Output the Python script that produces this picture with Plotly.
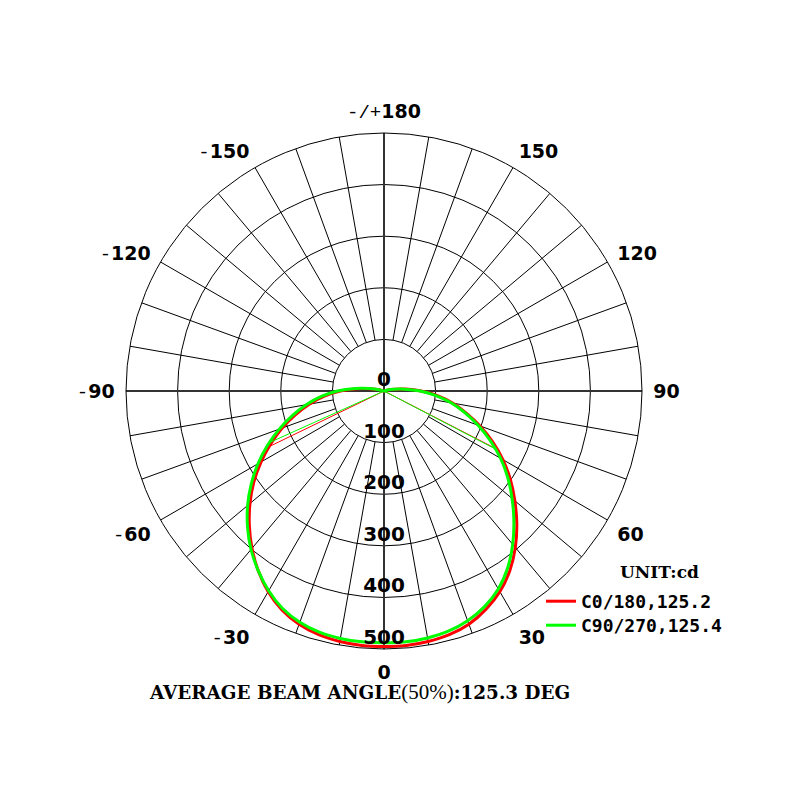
import plotly.graph_objects as go

# ---------------- data ----------------
ANGLES = [0, 5, 10, 15, 20, 25, 30, 35, 40, 45, 50, 55, 60, 65, 70, 75, 80, 85, 90, 95, 100, 105, 110]
# C0/180 (red): right half = C0, left half = C180
RED_RIGHT = [495, 495, 493, 489, 481, 467, 449, 425, 396, 364, 331, 299, 266, 232, 198, 165, 135, 104, 72, 42, 20, 7, 0]
RED_LEFT = [495, 495, 493, 489, 481, 468, 449, 425, 398, 369, 339, 308, 275, 242, 210, 178, 147, 116, 85, 52, 26, 9, 0]
# C90/270 (green): right half = C90, left half = C270
GREEN_RIGHT = [488, 488, 486, 482, 474, 461, 443, 418, 388, 356, 324, 293, 261, 227, 194, 162, 132, 101, 70, 40, 19, 7, 0]
GREEN_LEFT = [488, 488, 487, 484, 477, 465, 447, 425, 401, 374, 345, 314, 282, 249, 216, 184, 153, 122, 90, 56, 28, 10, 0]

SERIES_NAMES = ["C0/180,125.2", "C90/270,125.4"]
SERIES_COLORS = ["#ff0000", "#00ff00"]

RING_VALUES = [0, 100, 200, 300, 400, 500]
ANGLE_TICKS = [0, 30, 60, 90, 120, 150, 180, 210, 240, 270, 300, 330]
MINUS = "<span style='font-family:Liberation Mono;font-weight:normal'>-</span>"
ANGLE_TICK_TEXT = ["0", "30", "60", "90", "120", "150",
                   "<span style='font-family:Liberation Mono;font-weight:normal'>-/+</span>180",
                   MINUS + "150", MINUS + "120", MINUS + "90", MINUS + "60", MINUS + "30"]
UNIT_TEXT = "<b>UNIT:cd</b>"
BEAM_TEXT = ("<b>AVERAGE BEAM ANGLE</b>"
             "<span style='font-family:Liberation Serif;font-weight:normal;font-size:21px'>(50%)</span>"
             "<b>:125.3 DEG</b>")

R_MAX = 500
INNER_R = 100
SPOKE_STEP = 10

W, H = 800, 801
OFF = 8  # page body margin of the html page


def px_x(x):
    return (x - OFF) / W


def px_y(y):
    return 1 - (y - OFF) / H


def half_point(angles, values, peak):
    half = peak / 2.0
    for i in range(1, len(values)):
        if values[i] < half <= values[i - 1]:
            f = (values[i - 1] - half) / (values[i - 1] - values[i])
            return angles[i - 1] + f * (angles[i] - angles[i - 1]), half
    return angles[-1], half


fig = go.Figure()

# spokes every 10 deg from the inner ring to the outer ring
sp_t, sp_r = [], []
for a in range(0, 360, SPOKE_STEP):
    if a % 90 == 0:
        continue
    sp_t += [a, a, None]
    sp_r += [INNER_R, R_MAX, None]
fig.add_trace(go.Scatterpolar(theta=sp_t, r=sp_r, mode="lines",
                              line=dict(color="black", width=1), hoverinfo="skip", showlegend=False))
# main axes through the centre
ax_t = [0, 0, 180, None, 90, 90, 270]
ax_r = [R_MAX, 0, R_MAX, None, R_MAX, 0, R_MAX]
fig.add_trace(go.Scatterpolar(theta=ax_t, r=ax_r, mode="lines",
                              line=dict(color="#333333", width=2), hoverinfo="skip", showlegend=False))

curves = [(RED_RIGHT, RED_LEFT), (GREEN_RIGHT, GREEN_LEFT)]
legends = ["legend", "legend2"]
for (right, left), name, color, lg in zip(curves, SERIES_NAMES, SERIES_COLORS, legends):
    th = [-a for a in ANGLES[::-1]] + ANGLES[1:]
    rr = left[::-1] + right[1:]
    peak = max(rr)
    # beam-angle (50%) lines
    ar, hr = half_point(ANGLES, right, peak)
    al, hl = half_point(ANGLES, left, peak)
    fig.add_trace(go.Scatterpolar(theta=[-al, 0, ar], r=[hl, 0, hr], mode="lines",
                                  line=dict(color=color, width=1), hoverinfo="skip", showlegend=False))
    fig.add_trace(go.Scatterpolar(theta=th, r=rr, mode="lines", name=name, legend=lg,
                                  line=dict(color=color, width=3, shape="spline", smoothing=0.8)))

# ring value labels along the 0 deg axis
fig.add_trace(go.Scatterpolar(theta=[0] * len(RING_VALUES), r=RING_VALUES, mode="text",
                              text=[str(v) for v in RING_VALUES], textposition="top center",
                              textfont=dict(family="DejaVu Sans", size=20, color="black", weight="bold"),
                              hoverinfo="skip", showlegend=False, cliponaxis=False))

legend_common = dict(xanchor="left", yanchor="top", bgcolor="rgba(0,0,0,0)", borderwidth=0,
                     font=dict(family="DejaVu Sans Mono", size=18, color="black", weight="bold"))

fig.update_layout(
    width=W, height=H,
    margin=dict(l=0, r=0, t=0, b=0),
    paper_bgcolor="white",
    polar=dict(
        domain=dict(x=[px_x(126), px_x(642)], y=[px_y(649), px_y(133)]),
        bgcolor="white",
        radialaxis=dict(range=[0, R_MAX], tickmode="array", tickvals=RING_VALUES[1:],
                        showticklabels=False, ticks="", showline=False,
                        showgrid=True, gridcolor="black", gridwidth=1),
        angularaxis=dict(rotation=-90, direction="counterclockwise",
                         tickmode="array", tickvals=ANGLE_TICKS, ticktext=ANGLE_TICK_TEXT,
                         ticks="outside", ticklen=7, tickcolor="rgba(0,0,0,0)",
                         showgrid=False, showline=True, linecolor="black", linewidth=1,
                         tickfont=dict(family="DejaVu Sans", size=19, color="black", weight="bold")),
    ),
    showlegend=True,
    legend=dict(x=px_x(541), y=px_y(583), **legend_common),
    legend2=dict(x=px_x(541), y=px_y(607), **legend_common),
    annotations=[
        dict(text=UNIT_TEXT, x=px_x(659), y=px_y(572), xref="paper", yref="paper",
             showarrow=False, xanchor="center", yanchor="middle",
             font=dict(family="DejaVu Serif", size=17, color="black")),
        dict(text=BEAM_TEXT, x=px_x(147), y=px_y(692), xref="paper", yref="paper",
             showarrow=False, xanchor="left", yanchor="middle",
             font=dict(family="DejaVu Serif", size=18.4, color="black")),
    ],
)

fig.write_html("out.html")
